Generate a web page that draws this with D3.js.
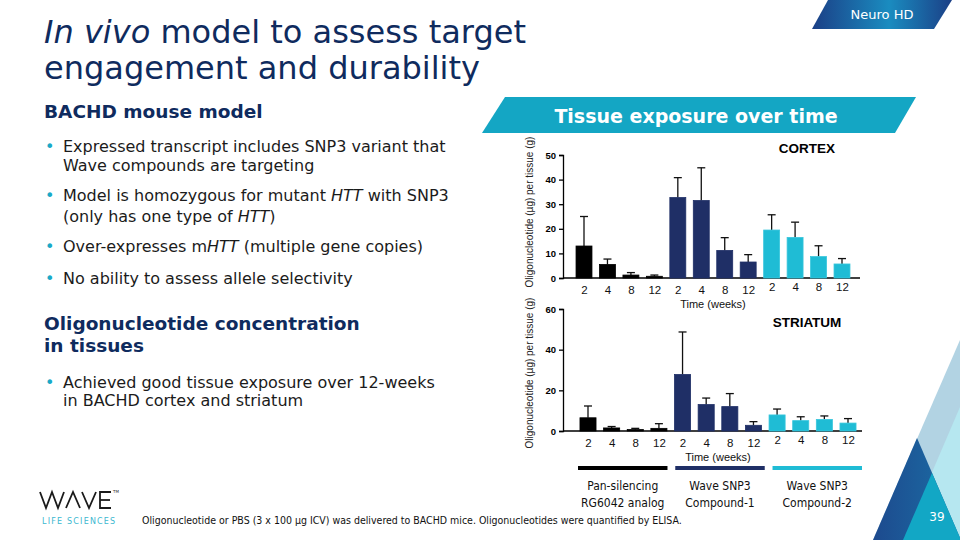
<!DOCTYPE html>
<html>
<head>
<meta charset="utf-8">
<script src="https://cdn.jsdelivr.net/npm/d3@7"></script>
<style>
  body { margin: 0; background: #fff; }
  svg { display: block; font-family: "DejaVu Sans", Verdana, sans-serif; }
</style>
</head>
<body>
<svg id="slide" width="960" height="540"></svg>
<script>
// data
const weeks = ["2", "4", "8", "12"]
const groups = ["Pan-silencing RG6042 analog", "Wave SNP3 Compound-1", "Wave SNP3 Compound-2"]
const groupColors = ["#000000", "#1f2f66", "#1fbcd5"]

const cortexMean = [13.0, 5.5, 1.2, 0.7, 32.7, 31.5, 11.2, 6.5, 19.5, 16.5, 8.7, 5.7]
const cortexErr  = [25.0, 7.7, 2.2, 1.2, 40.8, 44.8, 16.4, 9.5, 25.7, 22.7, 13.1, 7.9]
const cortexTicks = [0, 10, 20, 30, 40, 50]

const striatumMean = [6.5, 1.5, 0.7, 1.3, 27.8, 13.0, 12.0, 2.8, 7.9, 5.1, 5.7, 3.9]
const striatumErr  = [12.3, 2.2, 1.3, 3.6, 48.7, 16.2, 18.4, 4.6, 10.8, 7.0, 7.4, 6.1]
const striatumTicks = [0, 20, 40, 60]

const legendLines = [["Pan-silencing", "RG6042 analog"], ["Wave SNP3", "Compound-1"], ["Wave SNP3", "Compound-2"]]

const navy = "#0f2b5e"
const cyan = "#1aa9c7"

const svg = d3.select("#slide")
const defs = svg.append("defs")

// ---- title block ----
const title = svg.append("text")
    .attr("x", 44).attr("y", 43)
    .attr("fill", navy).attr("font-size", 32)
title.append("tspan").attr("font-style", "italic").text("In vivo")
title.append("tspan").text(" model to assess target")
svg.append("text")
    .attr("x", 44).attr("y", 79)
    .attr("fill", navy).attr("font-size", 32)
    .text("engagement and durability")

// Neuro HD tab
const tabGrad = defs.append("linearGradient").attr("id", "tabGrad")
tabGrad.append("stop").attr("offset", "0%").attr("stop-color", "#1b3f86")
tabGrad.append("stop").attr("offset", "55%").attr("stop-color", "#1a8cc0")
tabGrad.append("stop").attr("offset", "100%").attr("stop-color", "#1b3f86")
svg.append("polygon")
    .attr("points", "828,0 952,0 934,29 812,29")
    .attr("fill", "url(#tabGrad)")
svg.append("text")
    .attr("x", 882).attr("y", 19)
    .attr("text-anchor", "middle")
    .attr("fill", "#fff").attr("font-size", 13)
    .text("Neuro HD")

// ---- left column text ----
function heading(txt, y) {
  svg.append("text")
      .attr("x", 44).attr("y", y)
      .attr("fill", navy).attr("font-size", 18.5).attr("font-weight", "bold")
      .text(txt)
}
function bullet(parts, y, withDot) {
  if (withDot) svg.append("text")
      .attr("x", 45).attr("y", y)
      .attr("fill", cyan).attr("font-size", 16)
      .text("•")
  const t = svg.append("text")
      .attr("x", 63).attr("y", y)
      .attr("fill", "#1b1b1b").attr("font-size", 16)
  parts.forEach(p => {
    t.append("tspan").attr("font-style", p[1] ? "italic" : null).text(p[0])
  })
}

heading("BACHD mouse model", 118)
bullet([["Expressed transcript includes SNP3 variant that"]], 152, true)
bullet([["Wave compounds are targeting"]], 171, false)
bullet([["Model is homozygous for mutant "], ["HTT", 1], [" with SNP3"]], 201, true)
bullet([["(only has one type of "], ["HTT", 1], [")"]], 222, false)
bullet([["Over-expresses m"], ["HTT", 1], [" (multiple gene copies)"]], 252, true)
bullet([["No ability to assess allele selectivity"]], 284, true)

heading("Oligonucleotide concentration", 330)
heading("in tissues", 352)
bullet([["Achieved good tissue exposure over 12-weeks"]], 388, true)
bullet([["in BACHD cortex and striatum"]], 406, false)

// ---- banner ----
svg.append("polygon")
    .attr("points", "505,97 916,97 895,133 482,133")
    .attr("fill", "#14a6c4")
svg.append("text")
    .attr("x", 696).attr("y", 123)
    .attr("text-anchor", "middle")
    .attr("fill", "#fff").attr("font-size", 19).attr("font-weight", "bold")
    .text("Tissue exposure over time")

// ---- bar charts ----
const keys = d3.range(12)
const weekOf = i => weeks[i % 4]
const colorOf = i => groupColors[Math.floor(i / 4)]

function barChart(o) {
  const g = svg.append("g").attr("font-family", "Liberation Sans, Arial, sans-serif")

  const x = d3.scalePoint().domain(keys).range(o.xRange)
  const bw = x.step() * 0.68
  const y = d3.scaleLinear().domain(o.yDomain).range(o.yRange)

  // baseline
  g.append("line")
      .attr("x1", o.axisX).attr("x2", o.axisEnd)
      .attr("y1", y(0)).attr("y2", y(0))
      .attr("stroke", "#000").attr("stroke-width", 1.3)

  // y axis
  g.append("g")
      .attr("transform", `translate(${o.axisX},0)`)
      .call(d3.axisLeft(y).tickValues(o.ticks).tickSize(4).tickPadding(3))
      .call(a => a.select(".domain").attr("stroke-width", 1.3))
      .call(a => a.selectAll(".tick line").attr("stroke-width", 1.3))
      .call(a => a.selectAll("text")
          .attr("font-size", 9.5).attr("font-weight", "bold")
          .attr("font-family", "Liberation Sans, Arial, sans-serif"))

  // x tick labels
  g.append("g")
      .attr("transform", `translate(0,${y(0)})`)
      .call(d3.axisBottom(x).tickSize(0).tickPadding(8).tickFormat(weekOf))
      .call(a => a.select(".domain").remove())
      .call(a => a.selectAll("text")
          .attr("font-size", 11.5).attr("fill", "#111")
          .attr("font-family", "Liberation Sans, Arial, sans-serif")
          .attr("dy", (d, i) => i >= 8 ? "0.45em" : "0.71em"))

  // error whiskers (upper only)
  const err = g.append("g").attr("stroke", "#111").attr("stroke-width", 1.3)
  err.selectAll("line.v")
    .data(keys)
    .join("line")
      .attr("class", "v")
      .attr("x1", d => x(d)).attr("x2", d => x(d))
      .attr("y1", d => y(o.mean[d])).attr("y2", d => y(o.err[d]))
  err.selectAll("line.c")
    .data(keys)
    .join("line")
      .attr("class", "c")
      .attr("x1", d => x(d) - 4).attr("x2", d => x(d) + 4)
      .attr("y1", d => y(o.err[d])).attr("y2", d => y(o.err[d]))

  // bars
  g.append("g")
    .selectAll("rect")
    .data(keys)
    .join("rect")
      .attr("x", d => x(d) - bw / 2)
      .attr("width", bw)
      .attr("y", d => y(o.mean[d]))
      .attr("height", d => y(0) - y(o.mean[d]))
      .attr("fill", colorOf)
      .attr("stroke", d => d >= 8 ? "#38c6dc" : colorOf(d))
      .attr("stroke-width", 0.8)

  // label in corner
  g.append("text")
      .attr("x", o.labelX).attr("y", o.labelY)
      .attr("text-anchor", "middle")
      .attr("font-size", 13.5).attr("font-weight", "bold")
      .text(o.label)

  g.append("text")
      .attr("x", (x.range()[0] + x.range()[1]) / 2).attr("y", y(0) + 30)
      .attr("text-anchor", "middle")
      .attr("font-size", 11).attr("fill", "#111")
      .text("Time (weeks)")

  g.append("text")
      .attr("transform", `translate(533,${o.ylabY}) rotate(-90)`)
      .attr("text-anchor", "middle")
      .attr("font-size", 10).attr("fill", "#222")
      .text("Oligonucleotide (µg) per tissue (g)")
}

barChart({
  xRange: [584, 842], yDomain: [0, 50], yRange: [278, 155],
  axisX: 563, axisEnd: 860, ticks: cortexTicks,
  mean: cortexMean, err: cortexErr,
  label: "CORTEX", labelX: 807, labelY: 153,
  ylabY: 212
})

barChart({
  xRange: [588, 848], yDomain: [0, 60], yRange: [431, 309],
  axisX: 563, axisEnd: 862, ticks: striatumTicks,
  mean: striatumMean, err: striatumErr,
  label: "STRIATUM", labelX: 807, labelY: 327,
  ylabY: 373
})

// ---- legend ----
const legX = d3.scaleBand().domain(groups).range([578, 862]).paddingInner(0.08)
const leg = svg.append("g").attr("font-family", "DejaVu Sans Condensed, DejaVu Sans, sans-serif")
leg.selectAll("rect")
  .data(groups)
  .join("rect")
    .attr("x", d => legX(d)).attr("width", legX.bandwidth())
    .attr("y", 466).attr("height", 4)
    .attr("fill", (d, i) => groupColors[i])
groups.forEach((d, i) => {
  legendLines[i].forEach((line, j) => {
    leg.append("text")
        .attr("x", legX(d) + legX.bandwidth() / 2).attr("y", 490 + j * 17)
        .attr("text-anchor", "middle")
        .attr("font-size", 12).attr("fill", "#111")
        .text(line)
  })
})

// ---- footer ----
svg.append("text")
    .attr("x", 142).attr("y", 524)
    .attr("font-family", "DejaVu Sans Condensed, DejaVu Sans, sans-serif")
    .attr("font-size", 10.5).attr("fill", "#111")
    .text("Oligonucleotide or PBS (3 x 100 µg ICV) was delivered to BACHD mice. Oligonucleotides were quantified by ELISA.")

// wave logo
const logo = svg.append("g").attr("fill", "none").attr("stroke", "#1a1a1a").attr("stroke-width", 1.8)
logo.append("polyline").attr("points", "40,492 46,508 52,492 58,508 64,492")
logo.append("polyline").attr("points", "66,508 73,492 80,508")
logo.append("polyline").attr("points", "82,492 89,508 96,492")
logo.append("polyline").attr("points", "111,492 100,492 100,508 111,508")
logo.append("line").attr("x1", 100).attr("x2", 110).attr("y1", 500).attr("y2", 500)
svg.append("text").attr("x", 113).attr("y", 493).attr("font-size", 4).attr("fill", "#333").text("TM")
svg.append("text")
    .attr("x", 42).attr("y", 524)
    .attr("font-size", 8).attr("fill", "#3db8d0")
    .attr("letter-spacing", 1.2)
    .text("LIFE SCIENCES")

// corner triangles
svg.append("polygon").attr("points", "960,340 873,540 960,540").attr("fill", "#b2d3e3")
svg.append("polygon").attr("points", "960,407 903,540 960,540").attr("fill", "#b6e7f0")
const triGrad = defs.append("linearGradient").attr("id", "triGrad")
triGrad.append("stop").attr("offset", "0%").attr("stop-color", "#1d4a8e")
triGrad.append("stop").attr("offset", "100%").attr("stop-color", "#1b6fa6")
svg.append("polygon").attr("points", "917,438 873,540 961,540").attr("fill", "url(#triGrad)")
svg.append("polygon").attr("points", "932,473 903,540 961,540").attr("fill", "#12a7c5")
svg.append("text")
    .attr("x", 937).attr("y", 521)
    .attr("text-anchor", "middle")
    .attr("font-size", 12).attr("fill", "#fff")
    .text("39")
</script>
</body>
</html>
